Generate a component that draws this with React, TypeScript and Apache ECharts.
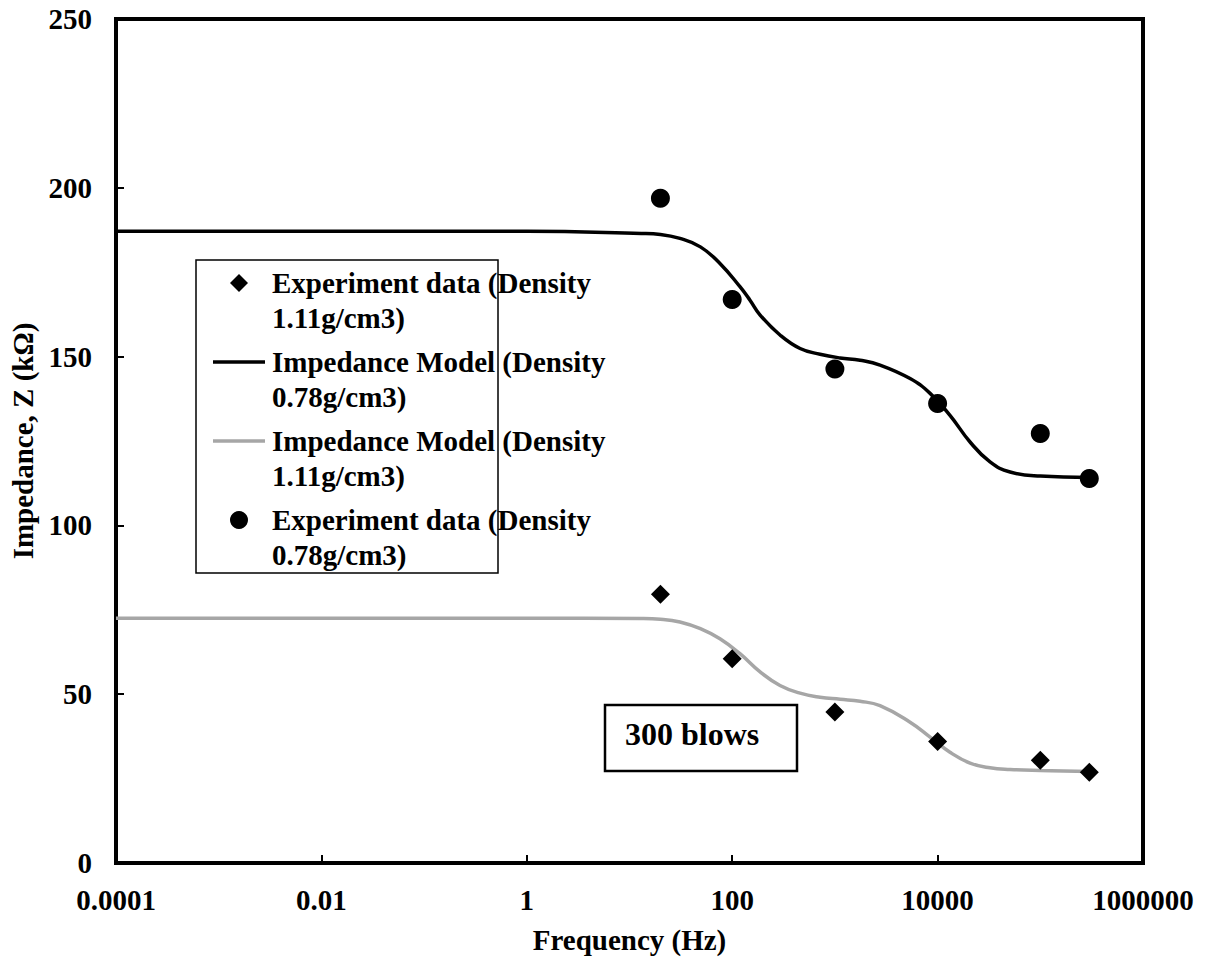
import React, { useEffect, useRef } from "react";
import * as echarts from "echarts";

// Experimental data (frequency in Hz, impedance in kΩ)
const expFreq = [20, 100, 1000, 10000, 100000, 300000];
const exp111 = [79.6, 60.5, 44.7, 36.0, 30.4, 26.9];
const exp078 = [196.9, 166.9, 146.3, 136.1, 127.2, 113.9];

// Impedance model curves
const model078Freq = [0.0001, 1, 13, 20, 31, 49, 76, 119, 149, 187, 292, 458, 717, 1122, 1758, 2750, 5395, 8450, 13200, 20700, 32400, 50800, 100000, 300000];
const model078Z = [187.1, 187.1, 186.5, 186.2, 185.0, 182.5, 177.6, 170.7, 166.7, 162.3, 156.4, 152.4, 150.7, 149.6, 148.9, 147.5, 143.5, 139.1, 132.6, 124.7, 118.8, 115.8, 114.6, 114.2];
const model111Freq = [0.0001, 1, 13, 20, 31, 49, 76, 119, 187, 292, 458, 717, 1122, 1758, 2750, 5395, 8450, 13200, 20700, 32400, 50800, 100000, 300000];
const model111Z = [72.5, 72.5, 72.4, 72.2, 71.4, 69.4, 66.4, 62.0, 56.6, 52.6, 50.3, 49.1, 48.5, 47.9, 46.6, 41.7, 37.3, 32.8, 29.6, 28.2, 27.7, 27.4, 27.1];

const xTickLabels = ["0.0001", "0.01", "1", "100", "10000", "1000000"];
const legendLabels = [
  "Experiment data (Density\n1.11g/cm3)",
  "Impedance Model (Density\n0.78g/cm3)",
  "Impedance Model (Density\n1.11g/cm3)",
  "Experiment data (Density\n0.78g/cm3)",
];
const noteText = "300 blows";
const xTitle = "Frequency (Hz)";
const yTitle = "Impedance, Z (kΩ)";

const FONT = "Liberation Serif";
const GRAY = "#a6a6a6";

export default function App() {
  const ref = useRef<HTMLDivElement>(null);
  useEffect(() => {
    if (!ref.current) return;
    const chart = echarts.init(ref.current, null, { renderer: "svg" });
    const pair = (xs: number[], ys: number[]) => xs.map((x, i) => [x, ys[i]]);
    const textBase = { fontFamily: FONT, fontWeight: "bold" as const, color: "#000" };

    const legendTop = 283;
    const legendStep = 79;
    const legendGraphics: any[] = [
      {
        type: "rect",
        shape: { x: 196, y: 260, width: 302, height: 313 },
        style: { fill: "#fff", stroke: "#000", lineWidth: 1.5 },
        z: 100,
      },
    ];
    legendLabels.forEach((label, i) => {
      const cy = legendTop + i * legendStep;
      if (i === 0) {
        legendGraphics.push({
          type: "polygon",
          shape: { points: [[239, cy - 9], [248, cy], [239, cy + 9], [230, cy]] },
          style: { fill: "#000" },
          z: 101,
        });
      } else if (i === 3) {
        legendGraphics.push({
          type: "circle",
          shape: { cx: 239, cy, r: 9 },
          style: { fill: "#000" },
          z: 101,
        });
      } else {
        legendGraphics.push({
          type: "line",
          shape: { x1: 213, y1: cy, x2: 265, y2: cy },
          style: { stroke: i === 1 ? "#000" : GRAY, lineWidth: 3.5 },
          z: 101,
        });
      }
      legendGraphics.push({
        type: "text",
        x: 272,
        y: cy - 17.5,
        style: {
          text: label,
          fontFamily: FONT,
          fontWeight: "bold",
          fontSize: 29,
          lineHeight: 35,
          fill: "#000",
          verticalAlign: "top",
          align: "left",
        },
        z: 102,
      });
    });

    const option: any = {
      animation: false,
      backgroundColor: "#fff",
      textStyle: { fontFamily: FONT },
      grid: {
        left: 116,
        right: 63,
        top: 19,
        bottom: 96,
        show: true,
        borderColor: "#000",
        borderWidth: 4,
        backgroundColor: "transparent",
      },
      xAxis: {
        type: "log",
        logBase: 10,
        min: 0.0001,
        max: 1000000,
        interval: 2,
        name: xTitle,
        nameLocation: "middle",
        nameGap: 62,
        nameTextStyle: { ...textBase, fontSize: 29 },
        axisLine: { show: true, lineStyle: { color: "#000", width: 4 } },
        axisTick: { show: true, inside: true, length: 8, lineStyle: { color: "#000", width: 2 } },
        minorTick: { show: false },
        splitLine: { show: false },
        axisLabel: {
          ...textBase,
          fontSize: 29,
          margin: 22,
          showMinLabel: true,
          showMaxLabel: true,
          formatter: (v: number) => {
            const e = Math.round(Math.log10(v));
            const idx = (e + 4) / 2;
            return Number.isInteger(idx) && xTickLabels[idx] ? xTickLabels[idx] : "";
          },
        },
      },
      yAxis: {
        type: "value",
        min: 0,
        max: 250,
        interval: 50,
        name: yTitle,
        nameLocation: "middle",
        nameGap: 78,
        nameTextStyle: { ...textBase, fontSize: 29 },
        axisLine: { show: true, lineStyle: { color: "#000", width: 4 } },
        axisTick: { show: true, inside: true, length: 8, lineStyle: { color: "#000", width: 2 } },
        splitLine: { show: false },
        axisLabel: { ...textBase, fontSize: 29, margin: 24 },
      },
      series: [
        {
          name: legendLabels[0],
          type: "scatter",
          symbol: "diamond",
          symbolSize: 19,
          itemStyle: { color: "#000", opacity: 1 },
          data: pair(expFreq, exp111),
          z: 5,
        },
        {
          name: legendLabels[1],
          type: "line",
          showSymbol: false,
          symbol: "none",
          smooth: 0.45,
          lineStyle: { color: "#000", width: 3.5 },
          data: pair(model078Freq, model078Z),
          z: 3,
        },
        {
          name: legendLabels[2],
          type: "line",
          showSymbol: false,
          symbol: "none",
          smooth: 0.45,
          lineStyle: { color: GRAY, width: 3.5 },
          data: pair(model111Freq, model111Z),
          z: 3,
        },
        {
          name: legendLabels[3],
          type: "scatter",
          symbol: "circle",
          symbolSize: 19,
          itemStyle: { color: "#000", opacity: 1 },
          data: pair(expFreq, exp078),
          z: 5,
        },
      ],
      graphic: [
        ...legendGraphics,
        {
          type: "rect",
          shape: { x: 605, y: 705, width: 192, height: 66 },
          style: { fill: "#fff", stroke: "#000", lineWidth: 2.5 },
          z: 100,
        },
        {
          type: "text",
          x: 625,
          y: 734,
          style: {
            text: noteText,
            fontFamily: FONT,
            fontWeight: "bold",
            fontSize: 32,
            fill: "#000",
            verticalAlign: "middle",
            align: "left",
          },
          z: 101,
        },
      ],
    };
    chart.setOption(option);
    return () => chart.dispose();
  }, []);
  return (
    <div
      ref={ref}
      style={{ position: "absolute", left: 0, top: 0, width: 1206, height: 959 }}
    />
  );
}
